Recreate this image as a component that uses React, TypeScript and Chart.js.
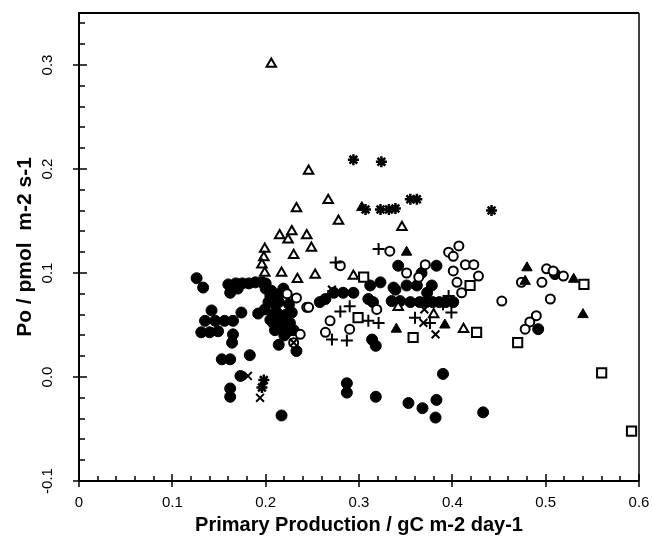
import React, { useEffect, useRef } from "react";
import { Chart, registerables } from "chart.js";

Chart.register(...registerables);

type Pt = [number, number];

// ----- data (x = primary production, y = Po) -----
const filledCircles: Pt[] = [
  [0.126, 0.095], [0.133, 0.086], [0.131, 0.043], [0.14, 0.043], [0.149, 0.044],
  [0.135, 0.054], [0.146, 0.054], [0.156, 0.054], [0.142, 0.064], [0.165, 0.041],
  [0.164, 0.033], [0.174, 0.062], [0.192, 0.061], [0.165, 0.054], [0.183, 0.021],
  [0.153, 0.017], [0.162, 0.017], [0.173, 0.001], [0.162, -0.011], [0.162, -0.019],
  [0.217, -0.037], [0.214, 0.031], [0.233, 0.025],
  [0.16, 0.089], [0.162, 0.081], [0.168, 0.09], [0.175, 0.09], [0.182, 0.09],
  [0.189, 0.091], [0.196, 0.091], [0.17, 0.085], [0.2, 0.09],
  [0.2, 0.085], [0.205, 0.078], [0.21, 0.07], [0.212, 0.062], [0.215, 0.055],
  [0.218, 0.048], [0.22, 0.04], [0.222, 0.06], [0.225, 0.07], [0.226, 0.052],
  [0.21, 0.045], [0.205, 0.055], [0.219, 0.085], [0.228, 0.062], [0.23, 0.045],
  [0.203, 0.072], [0.214, 0.072], [0.208, 0.06], [0.217, 0.055], [0.219, 0.047],
  [0.224, 0.044], [0.208, 0.052], [0.199, 0.065], [0.206, 0.083], [0.215, 0.08],
  [0.258, 0.072], [0.264, 0.075], [0.273, 0.081], [0.283, 0.081], [0.294, 0.081],
  [0.312, 0.088], [0.323, 0.091], [0.31, 0.075], [0.315, 0.072], [0.339, 0.084],
  [0.351, 0.088], [0.362, 0.088], [0.378, 0.088], [0.373, 0.081], [0.335, 0.073],
  [0.344, 0.073], [0.355, 0.072], [0.365, 0.072], [0.372, 0.072], [0.379, 0.072],
  [0.386, 0.072], [0.393, 0.072], [0.401, 0.072], [0.342, 0.107], [0.383, 0.107],
  [0.367, 0.1], [0.337, 0.086], [0.314, 0.036], [0.318, 0.03],
  [0.287, -0.006], [0.287, -0.015], [0.318, -0.019], [0.353, -0.025], [0.368, -0.03],
  [0.383, -0.022], [0.382, -0.039], [0.39, 0.003], [0.433, -0.034],
  [0.492, 0.046], [0.51, 0.099],
];

const openCircles: Pt[] = [
  [0.244, 0.067], [0.237, 0.041], [0.23, 0.033], [0.223, 0.08], [0.233, 0.076],
  [0.269, 0.054], [0.264, 0.043], [0.29, 0.046], [0.319, 0.065], [0.28, 0.107],
  [0.333, 0.121], [0.351, 0.1], [0.371, 0.108], [0.364, 0.096], [0.396, 0.12],
  [0.407, 0.126], [0.401, 0.116], [0.414, 0.108], [0.423, 0.108], [0.428, 0.097],
  [0.401, 0.102], [0.405, 0.091], [0.41, 0.081], [0.453, 0.073], [0.505, 0.075],
  [0.49, 0.059], [0.483, 0.053], [0.478, 0.046], [0.501, 0.104], [0.496, 0.091],
  [0.519, 0.097], [0.508, 0.102], [0.474, 0.091], [0.246, 0.067],
];

const openTriangles: Pt[] = [
  [0.206, 0.301], [0.246, 0.198], [0.233, 0.162], [0.267, 0.17], [0.278, 0.15],
  [0.215, 0.136], [0.224, 0.132], [0.228, 0.14], [0.244, 0.136], [0.249, 0.124],
  [0.23, 0.117], [0.199, 0.123], [0.198, 0.115], [0.196, 0.108], [0.199, 0.1],
  [0.217, 0.1], [0.234, 0.094], [0.253, 0.098], [0.294, 0.097], [0.346, 0.144],
  [0.342, 0.067], [0.38, 0.06], [0.412, 0.046],
];

const filledTriangles: Pt[] = [
  [0.303, 0.163], [0.351, 0.12], [0.34, 0.046], [0.392, 0.05],
  [0.48, 0.105], [0.478, 0.092], [0.53, 0.094], [0.54, 0.06],
];

const openSquares: Pt[] = [
  [0.305, 0.096], [0.299, 0.057], [0.358, 0.038], [0.419, 0.088], [0.426, 0.043],
  [0.47, 0.033], [0.541, 0.089], [0.56, 0.004], [0.592, -0.052],
];

const plusMarks: Pt[] = [
  [0.321, 0.123], [0.275, 0.11], [0.28, 0.063], [0.29, 0.068], [0.31, 0.054],
  [0.321, 0.052], [0.267, 0.078], [0.271, 0.036], [0.287, 0.035], [0.36, 0.057],
  [0.376, 0.052], [0.399, 0.062], [0.396, 0.078], [0.39, 0.07],
];

const crossMarks: Pt[] = [
  [0.271, 0.084], [0.369, 0.052], [0.382, 0.041], [0.181, 0.001], [0.194, -0.02],
  [0.23, 0.033], [0.37, 0.065],
];

const asteriskMarks: Pt[] = [
  [0.294, 0.209], [0.324, 0.207], [0.307, 0.161], [0.323, 0.161], [0.332, 0.161],
  [0.339, 0.162], [0.355, 0.171], [0.362, 0.171], [0.442, 0.16], [0.198, -0.003],
  [0.196, -0.01],
];

const xTickValues = [0, 0.1, 0.2, 0.3, 0.4, 0.5, 0.6];
const yTickValues = [-0.1, 0, 0.1, 0.2, 0.3];

const xTitle = "Primary Production / gC m-2 day-1";
const yTitle = "Po / pmol  m-2 s-1";

const FONT = "'Liberation Sans', Arial, Helvetica, sans-serif";

const isMajor = (v: number) => Math.abs(v * 10 - Math.round(v * 10)) < 1e-6;

const toXY = (pts: Pt[]) => pts.map(([x, y]) => ({ x, y }));

const frameAndTicks = {
  id: "frameAndTicks",
  afterDraw(chart: any) {
    const { ctx, chartArea } = chart;
    const { left, right, top, bottom } = chartArea;
    ctx.save();
    ctx.strokeStyle = "#000";
    ctx.lineWidth = 2;
    ctx.beginPath();
    ctx.moveTo(left, bottom);
    ctx.lineTo(left, top);
    ctx.lineTo(right, top);
    ctx.moveTo(left, bottom);
    ctx.lineTo(right, bottom);
    ctx.stroke();
    ctx.lineWidth = 1.5;
    ctx.beginPath();
    ctx.moveTo(right, top);
    ctx.lineTo(right, bottom);
    ctx.stroke();
    ctx.lineWidth = 1.5;
    const xs = chart.scales.x;
    xs.ticks.forEach((t: any, i: number) => {
      const px = Math.round(xs.getPixelForTick(i));
      const major = isMajor(t.value);
      ctx.beginPath();
      ctx.moveTo(px, bottom + (major ? 6 : 0));
      ctx.lineTo(px, bottom - (major ? 7 : 5));
      ctx.stroke();
    });
    const ys = chart.scales.y;
    ys.ticks.forEach((t: any, i: number) => {
      const py = Math.round(ys.getPixelForTick(i));
      const major = isMajor(t.value);
      ctx.beginPath();
      ctx.moveTo(left - (major ? 6 : 0), py);
      ctx.lineTo(left + (major ? 8 : 6), py);
      ctx.stroke();
    });
    ctx.restore();
  },
};

export default function App() {
  const ref = useRef<HTMLCanvasElement>(null);

  useEffect(() => {
    if (!ref.current) return;
    const base = { showLine: false, borderColor: "#000" };
    const chart = new Chart(ref.current, {
      type: "scatter",
      data: {
        datasets: [
          { ...base, label: "asterisk", data: toXY(asteriskMarks), pointStyle: "star", pointRadius: 5.5, borderWidth: 2.5, backgroundColor: "#000" },
          { ...base, label: "cross", data: toXY(crossMarks), pointStyle: "crossRot", pointRadius: 5.5, borderWidth: 2, backgroundColor: "#000" },
          { ...base, label: "plus", data: toXY(plusMarks), pointStyle: "cross", pointRadius: 6, borderWidth: 2, backgroundColor: "#000" },
          { ...base, label: "open squares", data: toXY(openSquares), pointStyle: "rect", pointRadius: 6.5, borderWidth: 2, backgroundColor: "#fff" },
          { ...base, label: "filled triangles", data: toXY(filledTriangles), pointStyle: "triangle", pointRadius: 6, borderWidth: 1, backgroundColor: "#000" },
          { ...base, label: "open triangles", data: toXY(openTriangles), pointStyle: "triangle", pointRadius: 5.5, borderWidth: 2, backgroundColor: "#fff" },
          { ...base, label: "open circles", data: toXY(openCircles), pointStyle: "circle", pointRadius: 4.5, borderWidth: 2, backgroundColor: "#fff" },
          { ...base, label: "filled circles", data: toXY(filledCircles), pointStyle: "circle", pointRadius: 5.5, borderWidth: 1, backgroundColor: "#000" },
        ],
      },
      options: {
        animation: false,
        responsive: true,
        maintainAspectRatio: false,
        events: [],
        layout: { padding: { left: 0, right: 13, top: 13, bottom: 0 } },
        plugins: { legend: { display: false }, tooltip: { enabled: false } },
        scales: {
          x: {
            type: "linear",
            min: 0,
            max: 0.6,
            grid: { display: false, drawTicks: false },
            border: { display: false },
            ticks: {
              stepSize: 0.02,
              autoSkip: false,
              maxRotation: 0,
              includeBounds: false,
              padding: 13,
              color: "#000",
              font: { family: FONT, size: 15 },
              callback: (v: any) => {
                const n = Number(v);
                const hit = xTickValues.find((t) => Math.abs(t - n) < 1e-6);
                if (hit === undefined) return "";
                return hit === 0 ? "0" : hit.toFixed(1);
              },
            },
            title: {
              display: true,
              text: xTitle,
              color: "#000",
              font: { family: FONT, size: 20, weight: "bold" },
              padding: { top: 0, bottom: 8 },
            },
            afterFit: (s: any) => {
              s.height = 64;
              s.paddingLeft = 0;
              s.paddingRight = 0;
            },
          },
          y: {
            type: "linear",
            min: -0.1,
            max: 0.35,
            grid: { display: false, drawTicks: false },
            border: { display: false },
            ticks: {
              stepSize: 0.02,
              autoSkip: false,
              minRotation: 90,
              maxRotation: 90,
              includeBounds: false,
              crossAlign: "center",
              padding: 18,
              color: "#000",
              font: { family: FONT, size: 15 },
              callback: (v: any) => {
                const n = Number(v);
                const hit = yTickValues.find((t) => Math.abs(t - n) < 1e-6);
                if (hit === undefined) return "";
                return hit.toFixed(1);
              },
            },
            title: {
              display: true,
              text: yTitle,
              color: "#000",
              font: { family: FONT, size: 21, weight: "bold" },
              padding: { top: 13, bottom: 0 },
            },
            afterFit: (s: any) => {
              s.width = 79;
              s.paddingTop = 0;
              s.paddingBottom = 0;
            },
          },
        },
      },
      plugins: [frameAndTicks],
    } as any);
    return () => chart.destroy();
  }, []);

  return (
    <div style={{ position: "absolute", left: 0, top: 0, width: 652, height: 545, background: "#fff" }}>
      <canvas ref={ref} />
    </div>
  );
}
